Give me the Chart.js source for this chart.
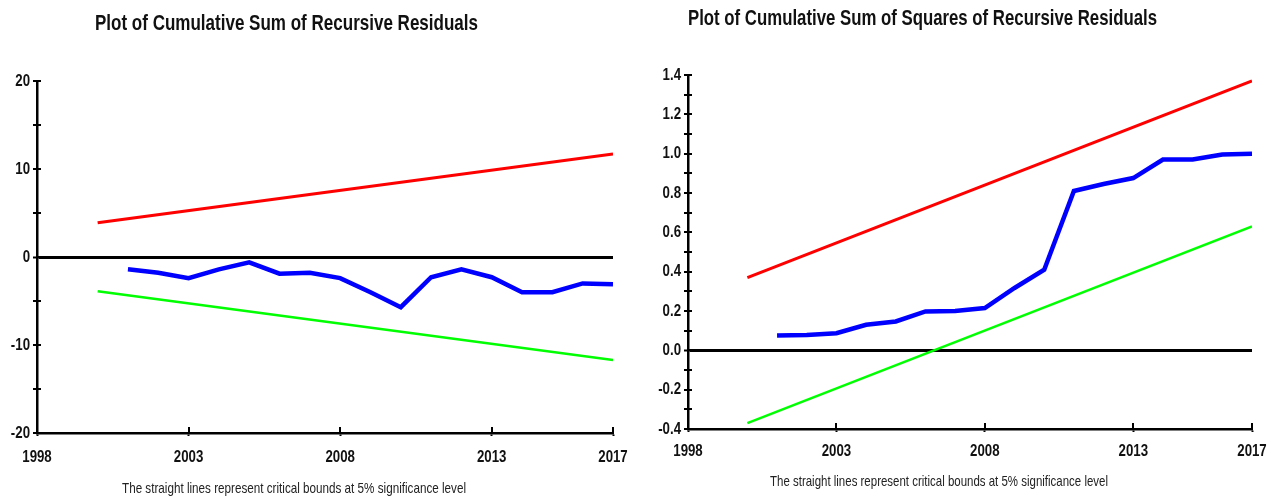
<!DOCTYPE html>
<html>
<head>
<meta charset="utf-8">
<script src="https://cdn.jsdelivr.net/npm/chart.js@4"></script>
<style>
  body { margin: 0; background: #fff; width: 1271px; height: 497px; position: relative; overflow: hidden; }
  .box { position: absolute; top: 0; }
  .title { position: absolute; font-family: 'Liberation Sans', Arial, sans-serif; font-weight: bold; font-size: 22px; color: #111; white-space: nowrap; transform-origin: 0 0; }
  .note { position: absolute; font-family: 'Liberation Sans', Arial, sans-serif; font-size: 15px; color: #222; white-space: nowrap; transform-origin: 0 0; }
</style>
</head>
<body>
<div class="box" style="left:0"><canvas id="cusum" width="630" height="497"></canvas></div>
<div class="box" style="left:630px"><canvas id="cusumsq" width="641" height="497"></canvas></div>

<div class="title" data-w="383" style="left:95px; top:10px">Plot of Cumulative Sum of Recursive Residuals</div>
<div class="title" data-w="469" style="left:688px; top:5px">Plot of Cumulative Sum of Squares of Recursive Residuals</div>
<div class="note" data-w="344" style="left:122px; top:479px">The straight lines represent critical bounds at 5% significance level</div>
<div class="note" data-w="338" style="left:770px; top:472px">The straight lines represent critical bounds at 5% significance level</div>

<script>
// data
const years = [2001, 2002, 2003, 2004, 2005, 2006, 2007, 2008, 2009, 2010, 2011, 2012, 2013, 2014, 2015, 2016, 2017];
const cusum = [-1.4, -1.8, -2.4, -1.4, -0.6, -1.9, -1.8, -2.4, -4.0, -5.7, -2.3, -1.4, -2.3, -4.0, -4.0, -3.0, -3.1];
const cusumsq = [0.075, 0.078, 0.087, 0.13, 0.147, 0.198, 0.2, 0.215, 0.317, 0.41, 0.81, 0.846, 0.876, 0.97, 0.97, 0.996, 1.0];

// critical bounds (straight lines, end points only)
const boundYears = [2000, 2017];
const cusumUpper = [3.9, 11.7];
const cusumLower = [-3.9, -11.7];
const sqUpper = [0.37, 1.37];
const sqLower = [-0.37, 0.63];

const xTickYears = [1998, 2003, 2008, 2013, 2017];

// the original uses a narrow face, squeeze the html text to the same width
document.querySelectorAll('[data-w]').forEach(function(el) {
  var w = el.getBoundingClientRect().width;
  el.style.transform = 'scaleX(' + (Number(el.dataset.w) / w) + ')';
});

const tickFont = { family: "'Liberation Sans', Arial, sans-serif", size: 14, weight: 'bold' };

// draws the tick labels squeezed (narrow font look) and the inner half of the tick marks
function narrowLabels(xOff) {
  return {
    id: 'narrowLabels',
    afterDraw: function(chart) {
      var ctx = chart.ctx;
      var area = chart.chartArea;
      var xs = chart.scales.x, ys = chart.scales.y;
      ctx.save();
      ctx.strokeStyle = '#000';
      ctx.lineWidth = 2;
      ys.ticks.forEach(function(t) {
        var py = Math.round(ys.getPixelForValue(t.value));
        ctx.beginPath(); ctx.moveTo(area.left, py); ctx.lineTo(area.left + 4, py); ctx.stroke();
      });
      xs.ticks.forEach(function(t) {
        var px = Math.round(xs.getPixelForValue(t.value));
        ctx.beginPath(); ctx.moveTo(px, area.bottom); ctx.lineTo(px, area.bottom - 6); ctx.stroke();
      });
      ctx.fillStyle = '#111';
      ctx.font = "bold 17px 'Liberation Sans', Arial, sans-serif";
      ctx.textBaseline = 'middle';
      ys.ticks.forEach(function(t) {
        if (!t.label) return;
        var py = ys.getPixelForValue(t.value);
        ctx.save();
        ctx.translate(area.left - 7, py);
        ctx.scale(0.78, 1);
        ctx.textAlign = 'right';
        ctx.fillText(t.label, 0, 0);
        ctx.restore();
      });
      xs.ticks.forEach(function(t) {
        var px = xs.getPixelForValue(t.value);
        ctx.save();
        ctx.translate(px, area.bottom + xOff);
        ctx.scale(0.78, 1);
        ctx.textAlign = 'center';
        ctx.fillText(String(t.value), 0, 0);
        ctx.restore();
      });
      ctx.restore();
    }
  };
}

function pts(xs, ys) {
  return xs.map(function(x, i) { return { x: x, y: ys[i] }; });
}

function lineSet(xs, ys, color, width) {
  return {
    data: pts(xs, ys),
    borderColor: color,
    borderWidth: width,
    pointRadius: 0,
    tension: 0,
    fill: false
  };
}

function makeChart(id, series, yOpts, yWidth, xHeight, xOff, pad) {
  return new Chart(document.getElementById(id), {
    type: 'line',
    data: {
      datasets: [
        lineSet(boundYears, series.upper, '#ff0000', 3),
        lineSet(boundYears, series.lower, '#00ff00', 2.5),
        lineSet(years, series.values, '#0000ff', 4.5)
      ]
    },
    plugins: [narrowLabels(xOff)],
    options: {
      responsive: false,
      animation: false,
      layout: { padding: pad },
      plugins: { legend: { display: false }, tooltip: { enabled: false } },
      scales: {
        x: {
          type: 'linear',
          min: 1998,
          max: 2017,
          afterBuildTicks: function(scale) {
            scale.ticks = xTickYears.map(function(v) { return { value: v }; });
          },
          afterFit: function(scale) {
            scale.height = xHeight;
            scale.paddingLeft = 0;
            scale.paddingRight = 0;
          },
          border: { display: true, color: '#000', width: 2.5 },
          grid: { drawOnChartArea: false, drawTicks: true, tickLength: 3, tickColor: '#000', tickWidth: 2 },
          ticks: {
            autoSkip: false,
            maxRotation: 0,
            color: 'rgba(0,0,0,0)',
            font: tickFont,
            callback: function(v) { return String(v); }
          }
        },
        y: {
          min: yOpts.min,
          max: yOpts.max,
          afterFit: function(scale) {
            scale.width = yWidth;
            scale.paddingTop = 0;
            scale.paddingBottom = 0;
          },
          border: { display: true, color: '#000', width: 2.5 },
          grid: {
            drawOnChartArea: true,
            drawTicks: true,
            tickLength: 4,
            tickColor: '#000',
            tickWidth: 2,
            color: function(ctx) { return ctx.tick && Math.abs(ctx.tick.value) < 1e-9 ? '#000' : 'rgba(0,0,0,0)'; },
            lineWidth: function(ctx) { return ctx.tick && Math.abs(ctx.tick.value) < 1e-9 ? 3 : 0; }
          },
          ticks: {
            autoSkip: false,
            stepSize: yOpts.step,
            color: 'rgba(0,0,0,0)',
            font: tickFont,
            callback: yOpts.label
          }
        }
      }
    }
  });
}

makeChart('cusum',
  { upper: cusumUpper, lower: cusumLower, values: cusum },
  {
    min: -20, max: 20, step: 5,
    label: function(v) { return v % 10 === 0 ? String(v) : ''; }
  },
  37, 64, 24, { top: 81, right: 17, left: 0, bottom: 0 });

makeChart('cusumsq',
  { upper: sqUpper, lower: sqLower, values: cusumsq },
  {
    min: -0.4, max: 1.4, step: 0.1,
    label: function(v) { var k = Math.round(v * 10); return k % 2 === 0 ? (k / 10).toFixed(1) : ''; }
  },
  58, 68, 22, { top: 75, right: 19, left: 0, bottom: 0 });
</script>
</body>
</html>
